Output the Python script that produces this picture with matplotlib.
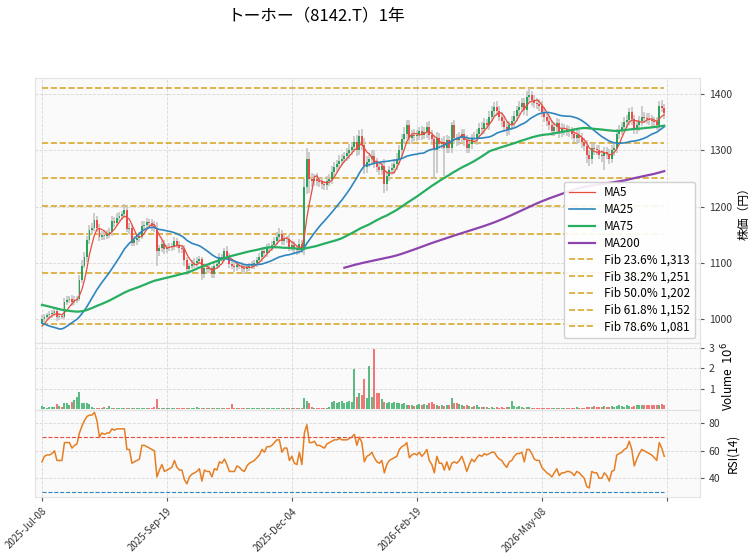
import numpy as np
import pandas as pd
import matplotlib
matplotlib.use('Agg')
import matplotlib.pyplot as plt

plt.rcParams['font.family'] = ['Noto Sans CJK JP', 'DejaVu Sans']

title = 'トーホー（8142.T）1年'
tick_pos = [0, 50, 100, 150, 200, 250]
tick_labels = ['2025-Jul-08', '2025-Sep-19', '2025-Dec-04', '2026-Feb-19', '2026-May-08', '']

# closes before the window (only used so the moving averages start like the original)
pre_close = [1040, 1045, 1060, 1075,
             1080, 1085, 1090, 1095, 1092, 1088, 1095, 1090, 1085, 1090,
             1075, 1070, 1068, 1060, 1055, 1050, 1048, 1040, 1035, 1030,
             1025, 1020, 1015, 1010, 1008, 1005, 1000, 1002, 998, 1000,
             1005, 1008, 1010, 1015, 1012, 1018, 1020, 1022, 1025, 1028,
             1030, 1032, 1035, 1038, 1040, 1042, 1045, 1043, 1046, 1048,
             1046, 1050, 1048, 1045, 1042, 1038, 1040,
             1000, 980, 965, 955, 950, 958, 962, 960, 955, 965, 970, 968, 975, 980, 978, 985, 992]

close = [1000, 1004, 1006, 1008, 1010, 1014, 1004, 1005, 1004, 1030,
         1034, 1036, 1030, 1034, 1036, 1070, 1095, 1110, 1140, 1158,
         1162, 1176, 1162, 1146, 1150, 1148, 1152, 1154, 1175, 1170,
         1180, 1184, 1186, 1194, 1160, 1162, 1136, 1140, 1144, 1148,
         1166, 1168, 1172, 1170, 1166, 1162, 1120, 1126, 1134, 1124,
         1126, 1128, 1130, 1138, 1132, 1126, 1125, 1104, 1088, 1094,
         1098, 1100, 1103, 1106, 1080, 1090, 1088, 1090, 1080, 1095,
         1098, 1110, 1108, 1120, 1112, 1098, 1094, 1092, 1096, 1095,
         1090, 1088, 1092, 1094, 1096, 1100, 1104, 1110, 1120, 1117,
         1126, 1128, 1132, 1138, 1146, 1152, 1138, 1142, 1143, 1128,
         1132, 1124, 1122, 1134, 1124, 1235, 1285, 1250, 1245, 1250,
         1245, 1244, 1240, 1238, 1245, 1250, 1262, 1270, 1275, 1282,
         1285, 1290, 1295, 1300, 1306, 1315, 1300, 1325, 1310, 1270,
         1280, 1285, 1290, 1278, 1270, 1266, 1272, 1240, 1255, 1265,
         1268, 1275, 1285, 1300, 1320, 1330, 1345, 1322, 1328, 1326,
         1328, 1334, 1328, 1333, 1342, 1328, 1320, 1300, 1322, 1312,
         1315, 1305, 1318, 1305, 1345, 1322, 1318, 1322, 1330, 1318,
         1305, 1312, 1322, 1320, 1330, 1340, 1338, 1348, 1346, 1360,
         1370, 1378, 1370, 1360, 1352, 1342, 1336, 1345, 1352, 1362,
         1372, 1378, 1385, 1372, 1395, 1398, 1390, 1385, 1382, 1380,
         1368, 1360, 1352, 1345, 1335, 1342, 1348, 1332, 1338, 1338,
         1335, 1334, 1330, 1322, 1328, 1322, 1315, 1308, 1292, 1285,
         1305, 1302, 1300, 1292, 1290, 1298, 1294, 1285, 1300, 1305,
         1330, 1336, 1342, 1350, 1355, 1368, 1356, 1338, 1345, 1352,
         1360, 1358, 1356, 1354, 1352, 1350, 1346, 1380, 1376, 1366]

wick_hi = [6, 5, 4, 6, 5, 7, 6, 5, 4, 8, 6, 5, 7, 6, 5, 8, 10, 9, 8, 10, 9, 12, 8, 7, 6,
           8, 6, 7, 9, 6, 8, 7, 6, 10, 7, 8, 6, 7, 8, 6, 9, 7, 8, 6, 7, 8, 10, 6, 8, 7,
           6, 7, 5, 8, 6, 7, 5, 6, 7, 5, 6, 8, 7, 6, 5, 7, 6, 8, 5, 7, 6, 8, 6, 7, 9,
           6, 5, 7, 6, 5, 6, 7, 5, 6, 7, 5, 6, 8, 7, 6, 7, 8, 6, 7, 8, 9, 6, 7, 5, 8,
           6, 7, 5, 8, 6, 15, 20, 12, 10, 8, 9, 7, 8, 6, 9, 8, 10, 9, 8, 10, 9, 8, 10, 12, 9,
           10, 12, 11, 14, 12, 10, 9, 11, 10, 9, 8, 10, 12, 9, 8, 10, 9, 11, 10, 9, 12, 10, 9, 8, 10,
           9, 8, 10, 9, 8, 10, 9, 8, 10, 9, 8, 10, 9, 8, 6, 9, 8, 10, 9, 8, 10, 9, 8, 10, 9,
           8, 10, 9, 8, 10, 9, 8, 10, 9, 8, 10, 9, 8, 10, 9, 8, 10, 9, 8, 10, 14, 8, 9, 8, 9,
           8, 9, 8, 10, 9, 8, 9, 8, 10, 9, 8, 9, 8, 10, 9, 8, 9, 8, 10, 9, 8, 9, 8, 10, 9,
           8, 9, 8, 10, 9, 8, 9, 8, 10, 9, 8, 9, 8, 10, 9, 20, 9, 8, 10, 9, 8, 9, 8, 10, 6]

wick_lo = [1, 6, 5, 4, 6, 5, 7, 6, 5, 4, 6, 5, 7, 6, 5, 4, 6, 5, 8, 6, 7, 6, 8, 7, 6,
           7, 6, 8, 6, 7, 5, 6, 8, 7, 6, 9, 7, 6, 8, 7, 6, 8, 7, 6, 9, 7, 25, 8, 7, 9,
           7, 6, 8, 7, 6, 8, 7, 9, 10, 7, 6, 8, 7, 6, 10, 8, 7, 6, 8, 7, 6, 8, 7, 6, 8,
           7, 6, 8, 7, 6, 7, 8, 6, 7, 6, 8, 7, 6, 8, 7, 6, 8, 7, 6, 7, 8, 6, 7, 6, 8,
           7, 6, 8, 7, 6, 10, 12, 25, 10, 9, 8, 10, 9, 8, 9, 8, 10, 9, 8, 9, 10, 8, 9, 10, 8,
           9, 10, 8, 9, 12, 10, 9, 11, 10, 9, 10, 9, 15, 12, 10, 9, 10, 9, 11, 10, 9, 10, 9, 11, 10,
           9, 10, 9, 8, 10, 9, 10, 50, 40, 9, 10, 50, 9, 10, 9, 8, 10, 9, 8, 10, 9, 10, 9, 8, 10,
           9, 10, 9, 8, 10, 9, 10, 9, 8, 10, 9, 10, 9, 8, 10, 9, 10, 9, 8, 10, 9, 10, 9, 8, 10,
           9, 10, 9, 8, 10, 9, 10, 9, 8, 10, 9, 10, 9, 8, 10, 9, 10, 9, 15, 12, 9, 10, 9, 8, 10,
           25, 10, 9, 8, 10, 9, 10, 9, 8, 10, 9, 10, 9, 8, 10, 9, 10, 9, 8, 10, 9, 10, 9, 8, 10]

# volume in millions of shares
volume = [0.15, 0.1, 0.08, 0.1, 0.12, 0.1, 0.24, 0.15, 0.12, 0.28,
          0.3, 0.2, 0.35, 0.44, 0.6, 0.84, 0.3, 0.3, 0.28, 0.25,
          0.1, 0.08, 0.06, 0.08, 0.06, 0.1, 0.05, 0.15, 0.06, 0.05,
          0.05, 0.06, 0.04, 0.05, 0.06, 0.05, 0.04, 0.05, 0.06, 0.04,
          0.05, 0.06, 0.04, 0.05, 0.04, 0.1, 0.5, 0.08, 0.06, 0.04,
          0.05, 0.04, 0.06, 0.05, 0.04, 0.05, 0.04, 0.06, 0.04, 0.05,
          0.08, 0.06, 0.12, 0.05, 0.04, 0.06, 0.04, 0.05, 0.06, 0.04,
          0.05, 0.06, 0.04, 0.08, 0.05, 0.06, 0.24, 0.05, 0.04, 0.05,
          0.04, 0.05, 0.04, 0.06, 0.05, 0.04, 0.05, 0.04, 0.05, 0.04,
          0.05, 0.04, 0.06, 0.04, 0.05, 0.04, 0.05, 0.04, 0.05, 0.06,
          0.04, 0.05, 0.04, 0.05, 0.06, 0.55, 0.4, 0.3, 0.12, 0.08,
          0.06, 0.05, 0.06, 0.04, 0.06, 0.1, 0.35, 0.39, 0.3, 0.36,
          0.38, 0.3, 0.36, 0.38, 0.35, 1.95, 0.6, 0.8, 0.7, 1.46,
          0.55, 2.1, 0.6, 2.93, 0.8, 0.8, 0.5, 0.36, 0.3, 0.36,
          0.28, 0.36, 0.3, 0.3, 0.25, 0.3, 0.2, 0.22, 0.2, 0.15,
          0.2, 0.25, 0.22, 0.25, 0.2, 0.3, 0.36, 0.25, 0.2, 0.15,
          0.2, 0.15, 0.18, 0.2, 0.55, 0.3, 0.28, 0.25, 0.2, 0.15,
          0.2, 0.15, 0.12, 0.15, 0.18, 0.12, 0.1, 0.12, 0.1, 0.08,
          0.1, 0.08, 0.1, 0.08, 0.1, 0.08, 0.1, 0.12, 0.4, 0.15,
          0.12, 0.15, 0.1, 0.08, 0.12, 0.1, 0.08, 0.06, 0.08, 0.06,
          0.05, 0.06, 0.05, 0.04, 0.06, 0.05, 0.04, 0.06, 0.05, 0.04,
          0.05, 0.08, 0.06, 0.05, 0.1, 0.06, 0.05, 0.08, 0.1, 0.12,
          0.1, 0.15, 0.12, 0.1, 0.12, 0.15, 0.12, 0.1, 0.15, 0.12,
          0.15, 0.18, 0.15, 0.12, 0.18, 0.15, 0.12, 0.15, 0.2, 0.18,
          0.22, 0.2, 0.18, 0.22, 0.2, 0.18, 0.22, 0.2, 0.25, 0.18]

rsi = [52, 56, 57, 57, 58, 60, 53, 53, 53, 66,
       66, 66, 62, 64, 65, 73, 78, 82, 85, 86,
       86, 88, 82, 70, 73, 72, 73, 73, 76, 75,
       76, 76, 76, 76, 61, 61, 51, 52, 53, 54,
       64, 64, 63, 62, 61, 60, 41, 46, 50, 45,
       46, 47, 48, 53, 48, 46, 46, 39, 36, 41,
       43, 44, 45, 47, 38, 46, 45, 45, 41, 47,
       46, 52, 51, 54, 50, 45, 45, 45, 49, 48,
       46, 45, 49, 51, 52, 53, 55, 57, 61, 59,
       63, 63, 64, 66, 68, 68, 59, 62, 62, 53,
       56, 51, 50, 59, 50, 73, 79, 66, 66, 67,
       64, 64, 63, 62, 65, 66, 67, 68, 68, 69,
       68, 68, 68, 69, 70, 72, 64, 70, 66, 52,
       56, 57, 59, 55, 52, 51, 53, 44, 50, 53,
       54, 55, 56, 61, 63, 64, 66, 55, 57, 58,
       57, 59, 56, 58, 61, 53, 50, 44, 56, 51,
       51, 46, 52, 46, 51, 52, 51, 53, 56, 51,
       45, 50, 54, 52, 55, 57, 56, 58, 57, 58,
       59, 59, 56, 54, 53, 50, 48, 52, 53, 56,
       58, 58, 59, 52, 61, 61, 58, 54, 53, 53,
       48, 46, 44, 43, 41, 44, 47, 42, 44, 44,
       45, 45, 44, 42, 45, 44, 42, 40, 34, 33,
       45, 44, 44, 40, 40, 44, 42, 38, 45, 46,
       57, 58, 59, 61, 62, 67, 61, 49, 54, 58,
       61, 60, 59, 58, 57, 55, 53, 66, 62, 56]

fib_ratios = [0.0, 0.236, 0.382, 0.5, 0.618, 0.786, 1.0]

# candles
c = np.array(close, dtype=float)
o = np.r_[pre_close[-1], c[:-1]]
hi = np.maximum(o, c) + np.array(wick_hi)
lo = np.minimum(o, c) - np.array(wick_lo)
x = np.arange(len(c))
n = len(c)
up_col, dn_col = '#26a65b', '#ef4b4b'
cols = np.where(c >= o, up_col, dn_col)

full = pd.Series(pre_close + close, dtype=float)
n_pre = len(pre_close)
ma = {k: full.rolling(k).mean().to_numpy()[n_pre:] for k in (5, 25, 75, 200)}

fig = plt.figure(figsize=(7.52, 5.58), dpi=100)
L, W = 0.0465, 0.884
ax1 = fig.add_axes([L, 0.3853, W, 0.4749])
ax2 = fig.add_axes([L, 0.2652, W, 0.1201], sharex=ax1)
ax3 = fig.add_axes([L, 0.1093, W, 0.1559], sharex=ax1)

for ax in (ax1, ax2, ax3):
    ax.set_facecolor('#fafafa')
    ax.grid(True, linestyle='--', linewidth=0.6, color='#d8d8d8')
    ax.set_axisbelow(True)
    ax.yaxis.tick_right()
    ax.yaxis.set_label_position('right')
    ax.tick_params(axis='both', labelsize=7.5, length=3, color='#555555', labelcolor='#333333')
    for s in ax.spines.values():
        s.set_color('#e2e2e2')

# price panel
ax1.vlines(x, lo, hi, color='#c4c4c4', linewidth=1.2, zorder=2)
ax1.bar(x, np.maximum(np.abs(c - o), 0.8), bottom=np.minimum(o, c), width=0.75,
        color=cols, zorder=3)
ax1.plot(x, ma[5], color='#e74c3c', linewidth=0.9, label='MA5', zorder=4)
ax1.plot(x, ma[25], color='#2e86c1', linewidth=1.2, label='MA25', zorder=4)
ax1.plot(x, ma[75], color='#27ae60', linewidth=1.6, label='MA75', zorder=4)
ax1.plot(x, ma[200], color='#8e44ad', linewidth=1.6, label='MA200', zorder=4)

top, bot = hi.max(), lo.min()
for r in fib_ratios:
    level = top - (top - bot) * r
    lab = f'Fib {r*100:.1f}% {level:,.0f}' if 0 < r < 1 else None
    ax1.hlines(level, 0, n - 1, colors='#d4a017', linestyles='--', linewidth=1.2,
               alpha=0.9, label=lab, zorder=1)

ax1.set_ylim(957, 1429)
ax1.set_yticks([1000, 1100, 1200, 1300, 1400])
ax1.set_ylabel('株価（円）', fontsize=8.5)
ax1.legend(loc='lower right', fontsize=8.5, framealpha=0.9, edgecolor='#cccccc',
           borderaxespad=0.4, handlelength=2.2, labelspacing=0.32)
plt.setp(ax1.get_xticklabels(), visible=False)
ax1.tick_params(axis='x', length=0)

# volume panel
ax2.bar(x, volume, width=0.8, color=cols, alpha=0.75)
ax2.set_ylim(-0.04, 3.22)
ax2.set_yticks([1, 2, 3])
ax2.set_ylabel('Volume  $10^{6}$', fontsize=8.5)
plt.setp(ax2.get_xticklabels(), visible=False)
ax2.tick_params(axis='x', length=0)

# RSI panel
ax3.plot(x, rsi, color='#e67e22', linewidth=1.1)
ax3.hlines(70, 0, n - 1, colors='#e74c3c', linestyles='--', linewidth=0.8)
ax3.hlines(30, 0, n - 1, colors='#2e86c1', linestyles='--', linewidth=0.8)
ax3.set_ylim(26.4, 89.7)
ax3.set_yticks([40, 60, 80])
ax3.set_ylabel('RSI(14)', fontsize=8.5)

ax3.set_xlim(-2.8, 263.2)
ax3.set_xticks(tick_pos)
ax3.set_xticklabels(tick_labels, rotation=45, ha='right', rotation_mode='anchor', fontsize=7)

fig.text(0.42, 0.972, title, ha='center', va='center', fontsize=12)

fig.savefig('out.png', dpi=100)
